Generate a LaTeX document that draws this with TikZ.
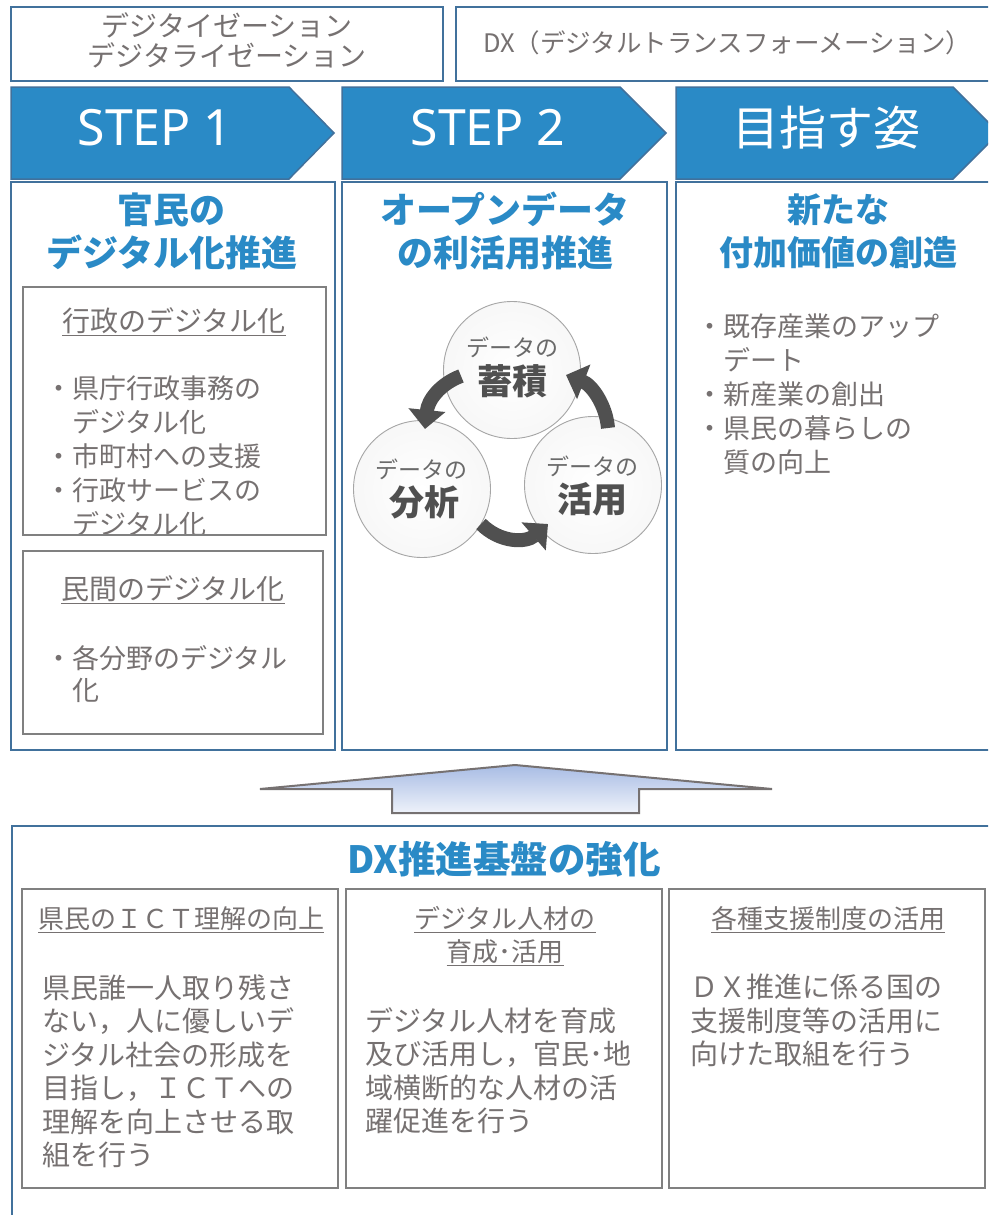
\documentclass[tikz,border=0pt]{standalone}
\usepackage{fontspec}
\setmainfont{Noto Sans CJK JP}
\newfontfamily\latinsans{Noto Sans}
\usetikzlibrary{arrows.meta}
\definecolor{stepblue}{HTML}{2A8AC6}
\definecolor{edgeblue}{HTML}{41719C}
\definecolor{txtgray}{HTML}{767171}
\definecolor{boxgray}{HTML}{808080}
\definecolor{cycgray}{HTML}{505050}
\definecolor{cyctext}{HTML}{6A6A6A}
\definecolor{arrtop}{HTML}{A8BCE4}
\definecolor{arrbot}{HTML}{EEF2FA}
\begin{document}
\begin{tikzpicture}[x=1pt,y=-1pt,
  colbox/.style={draw=edgeblue, line width=2.5pt},
  graybox/.style={draw=boxgray, line width=2.5pt},
  chev/.style={fill=stepblue, draw=edgeblue, line width=1.5pt},
  gtext/.style={text=txtgray, inner sep=0pt, align=left, font=\fontsize{27}{34}\selectfont},
  ttl/.style={text=txtgray, inner sep=0pt, align=center, font=\fontsize{27}{34}\selectfont},
  head/.style={text=stepblue, inner sep=0pt, align=center, font=\bfseries\fontsize{36}{43}\selectfont},
  steptext/.style={text=white, inner sep=0pt, font=\latinsans\fontsize{50}{50}\selectfont},
  circ/.style={circle, draw=black!35, line width=0.9pt, inner color=white, outer color=black!3, minimum size=137pt, inner sep=0pt},
  cycsmall/.style={text=cyctext, inner sep=0pt, font=\fontsize{23}{23}\selectfont},
  cycbig/.style={text=cycgray, inner sep=0pt, font=\bfseries\fontsize{35}{35}\selectfont},
  cyc/.style={draw=cycgray, line width=14pt, -{Triangle[length=19pt,width=36pt]}}
]
\useasboundingbox (0,0) rectangle (988,1215);
\clip (0,0) rectangle (988,1215);
\fill[white] (0,0) rectangle (988,1215);

% top boxes
\draw[colbox] (11,7) rectangle (443,81);
\node[ttl, font=\fontsize{28}{30}\selectfont] (dz) at (227,40) {デジタイゼーション\\デジタライゼーション};
\draw[colbox] (456,7) rectangle (1010,81);
\node[gtext, font=\fontsize{25.5}{30}\selectfont, anchor=west] (dx) at (483,43) {DX（デジタルトランスフォーメーション）};

% step chevrons
\draw[chev] (11,87) -- (289,87) -- (334,133) -- (289,179) -- (11,179) -- cycle;
\draw[chev] (342,87) -- (620,87) -- (666,133) -- (620,179) -- (342,179) -- cycle;
\draw[chev] (676,87) -- (953,87) -- (999,133) -- (953,179) -- (676,179) -- cycle;
\node[steptext] (s1) at (155,128) {STEP 1};
\node[steptext] (s2) at (488,128) {STEP 2};
\node[steptext, font=\fontsize{47}{47}\selectfont] (s3) at (826,128) {目指す姿};

% columns
\draw[colbox] (11,182) rectangle (335,750);
\draw[colbox] (342,182) rectangle (667,750);
\draw[colbox] (676,182) rectangle (1010,750);
\node[head] (h1) at (172,231) {官民の\\デジタル化推進};
\node[head] (h2) at (505,231) {オープンデータ\\の利活用推進};
\node[head, font=\bfseries\fontsize{34}{43}\selectfont] (h3) at (838,231) {新たな\\付加価値の創造};

% column 1 boxes
\node[ttl, font=\fontsize{28}{34}\selectfont] (t1) at (174,322) {\underline{行政のデジタル化}};
\begin{scope}
\clip (23,287) rectangle (326,534);
\node[gtext, anchor=north west] (b1) at (45,376) {・県庁行政事務の\\\hphantom{・}デジタル化\\・市町村への支援\\・行政サービスの\\\hphantom{・}デジタル化};
\end{scope}
\draw[graybox] (23,287) rectangle (326,535);
\draw[graybox] (23,551) rectangle (323,734);
\node[ttl, font=\fontsize{28}{34}\selectfont] (t2) at (173,590) {\underline{民間のデジタル化}};
\node[gtext, font=\fontsize{27}{32}\selectfont, anchor=north west] (b2) at (45,645) {・各分野のデジタル\\\hphantom{・}化};

% column 2 cycle
\node[circ] (store) at (512,370) {};
\node[circ] (anal) at (422,489) {};
\node[circ] (use) at (593,485) {};
\node[cycsmall] (store1) at (512,347) {データの};
\node[cycbig] (store2) at (512,381) {蓄積};
\node[cycsmall] (anal1) at (421,469) {データの};
\node[cycbig] (anal2) at (424,502) {分析};
\node[cycsmall] (use1) at (592,466) {データの};
\node[cycbig] (use2) at (592,499) {活用};
\coordinate (a1s) at (461,376);
\coordinate (a1e) at (425,429);
\coordinate (a2s) at (608,428);
\coordinate (a2e) at (566,375);
\coordinate (a3s) at (481,524);
\coordinate (a3e) at (548,524);
\draw[cyc] (a1s) .. controls (440,384) and (428,400) .. (a1e);
\draw[cyc] (a2s) .. controls (606,405) and (592,385) .. (a2e);
\draw[cyc] (a3s) .. controls (500,543) and (526,543) .. (a3e);

% column 3
\node[gtext, anchor=north west] (b3) at (696,314) {・既存産業のアップ\\\hphantom{・}デート\\・新産業の創出\\・県民の暮らしの\\\hphantom{・}質の向上};

% big up arrow
\path[draw=txtgray, line width=2pt, top color=arrtop, bottom color=arrbot]
  (515,765) -- (772,789) -- (639,789) -- (639,813) -- (392,813) -- (392,789) -- (260,789) -- cycle;

% bottom section
\draw[colbox] (12,1230) -- (12,826) -- (1010,826);
\node[head, font=\bfseries\fontsize{37.5}{40}\selectfont] (bh) at (504,859) {DX推進基盤の強化};
\draw[graybox] (22,889) rectangle (338,1188);
\draw[graybox] (346,889) rectangle (662,1188);
\draw[graybox] (669,889) rectangle (985,1188);
\node[ttl, font=\fontsize{26}{33}\selectfont] (bt1) at (181,920) {\underline{県民のＩＣＴ理解の向上}};
\node[ttl, font=\fontsize{26}{33}\selectfont] (bt2) at (505,936) {\underline{デジタル人材の}\\\underline{育成･活用}};
\node[ttl, font=\fontsize{26}{33}\selectfont] (bt3) at (828,920) {\underline{各種支援制度の活用}};
\node[gtext, font=\fontsize{28}{33.5}\selectfont, anchor=north west] (bb1) at (42,974) {県民誰一人取り残さ\\ない，人に優しいデ\\ジタル社会の形成を\\目指し，ＩＣＴへの\\理解を向上させる取\\組を行う};
\node[gtext, font=\fontsize{28}{33.5}\selectfont, anchor=north west] (bb2) at (365,1007) {デジタル人材を育成\\及び活用し，官民･地\\域横断的な人材の活\\躍促進を行う};
\node[gtext, font=\fontsize{28}{33.5}\selectfont, anchor=north west] (bb3) at (690,974) {ＤＸ推進に係る国の\\支援制度等の活用に\\向けた取組を行う};
\end{tikzpicture}
\end{document}
